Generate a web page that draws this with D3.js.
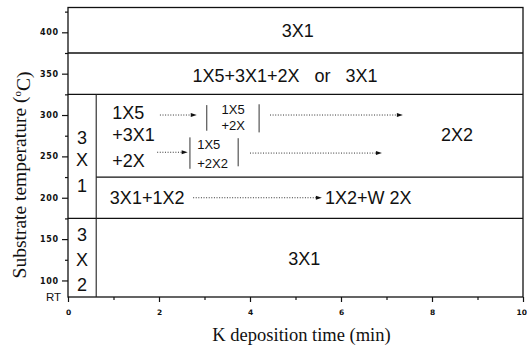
<!DOCTYPE html>
<html><head><meta charset="utf-8">
<script src="https://cdn.jsdelivr.net/npm/d3@7/dist/d3.min.js"></script>
<style>
body{margin:0;background:#fff;}
svg{display:block;}
.big{font-family:"Liberation Sans",Arial,sans-serif;font-size:18px;fill:#111;}
.small{font-family:"Liberation Sans",Arial,sans-serif;font-size:13px;fill:#111;}
.tick text{font-family:"DejaVu Sans",sans-serif;font-weight:bold;fill:#111;}
</style></head>
<body><svg id="c" width="527" height="347"></svg>
<script>
// axis settings / tick labels
const xDomain = [0, 10];
const yDomain = [80, 430];
const xMajorTicks = [0, 2, 4, 6, 8, 10];
const xMinorTicks = [1, 3, 5, 7, 9];
const yMajorTicks = [100, 150, 200, 250, 300, 350, 400];
const yMinorTicks = [125, 175, 225, 275, 325, 375, 425];
const yBottomLabel = "RT";
const xTitle = "K deposition time (min)";
const yTitle = ["Substrate temperature (", "o", "C)"];

// phase boundaries (data units: min, °C)
const boundaryTemps = [375, 325, 225, 175];
const boundaryStarts = [0, 0, 0.62, 0];
const verticalBoundary = {x: 0.62, y0: 80, y1: 325};

// phase labels
const bigLabels = [
  {t: "3X1", x: 5.05, y: 402, a: "middle"},
  {t: "1X5+3X1+2X   or   3X1", x: 4.77, y: 348, a: "middle"},
  {t: "3", x: 0.31, y: 273, a: "middle"},
  {t: "X", x: 0.31, y: 246, a: "middle"},
  {t: "1", x: 0.31, y: 215, a: "middle"},
  {t: "3", x: 0.31, y: 155, a: "middle"},
  {t: "X", x: 0.31, y: 125, a: "middle"},
  {t: "2", x: 0.31, y: 94.5, a: "middle"},
  {t: "1X5", x: 0.97, y: 302.5, a: "start"},
  {t: "+3X1", x: 0.97, y: 276, a: "start"},
  {t: "+2X", x: 0.97, y: 245.6, a: "start"},
  {t: "2X2", x: 8.55, y: 277, a: "middle"},
  {t: "3X1+1X2", x: 0.92, y: 200, a: "start"},
  {t: "1X2+W 2X", x: 5.65, y: 200, a: "start"},
  {t: "3X1", x: 5.19, y: 127, a: "middle"}
];
const smallLabels = [
  {t: "1X5", x: 3.63, y: 307, a: "middle"},
  {t: "+2X", x: 3.63, y: 287, a: "middle"},
  {t: "1X5", x: 2.84, y: 264, a: "start"},
  {t: "+2X2", x: 2.84, y: 242, a: "start"}
];
// dotted arrows
const arrowX0 = [2.02, 1.96, 4.44, 4.00, 2.75];
const arrowX1 = [2.83, 2.63, 7.36, 6.90, 5.58];
const arrowY  = [300, 255, 300, 254, 200];
// bracket bars
const bracketX  = [3.05, 4.20, 2.68, 3.74];
const bracketY0 = [281, 279, 235, 238];
const bracketY1 = [312, 313, 273, 272];

const svg = d3.select("#c");
const x = d3.scaleLinear(xDomain, [68, 523]);
const y = d3.scaleLinear(yDomain, [297, 7.5]);

// axes
const gx = svg.append("g").attr("transform", `translate(0,${y(yDomain[0])})`)
  .call(d3.axisBottom(x).tickValues(xMajorTicks).tickSize(5).tickSizeOuter(0).tickPadding(8).tickFormat(d3.format("d")));
gx.select(".domain").remove();
gx.selectAll("text").style("font-size", "7.5px");
gx.selectAll(".tick").filter(d => d === xDomain[1]).select("text")
  .attr("text-anchor", "end").attr("x", 3.5);
const gx2 = svg.append("g").attr("transform", `translate(0,${y(yDomain[0])})`)
  .call(d3.axisBottom(x).tickValues(xMinorTicks).tickSize(3).tickSizeOuter(0).tickFormat(""));
gx2.select(".domain").remove();

const gy = svg.append("g").attr("transform", `translate(${x(0)},0)`)
  .call(d3.axisLeft(y).tickValues(yMajorTicks).tickSize(6).tickSizeOuter(0).tickPadding(3));
gy.select(".domain").remove();
gy.selectAll("text").style("font-size", "8px").style("letter-spacing", "0.8px");
const gy2 = svg.append("g").attr("transform", `translate(${x(0)},0)`)
  .call(d3.axisLeft(y).tickValues(yMinorTicks).tickSize(3).tickSizeOuter(0).tickFormat(""));
gy2.select(".domain").remove();
svg.selectAll(".tick line").attr("stroke", "#111").attr("stroke-width", 1.2);

svg.append("text").attr("x", x(0) - 7).attr("y", y(yDomain[0]) + 1).attr("text-anchor", "end")
  .attr("dominant-baseline", "middle")
  .style("font-family", "Liberation Sans, Arial, sans-serif").style("font-size", "11.5px").style("fill", "#111")
  .text(yBottomLabel);

// frame
svg.append("rect").attr("x", x(0)).attr("y", y(yDomain[1]))
  .attr("width", x(xDomain[1]) - x(0)).attr("height", y(yDomain[0]) - y(yDomain[1]))
  .attr("fill", "none").attr("stroke", "#111").attr("stroke-width", 1.3);

// boundaries
svg.selectAll("line.hb").data(boundaryTemps).join("line").attr("class", "hb")
  .attr("x1", (d, i) => x(boundaryStarts[i])).attr("x2", x(xDomain[1]))
  .attr("y1", d => y(d)).attr("y2", d => y(d))
  .attr("stroke", "#111").attr("stroke-width", 1.3);
svg.append("line").attr("x1", x(verticalBoundary.x)).attr("x2", x(verticalBoundary.x))
  .attr("y1", y(verticalBoundary.y0)).attr("y2", y(verticalBoundary.y1))
  .attr("stroke", "#222").attr("stroke-width", 1.1);

// brackets
svg.selectAll("line.br").data(bracketX).join("line").attr("class", "br")
  .attr("x1", d => x(d)).attr("x2", d => x(d))
  .attr("y1", (d, i) => y(bracketY0[i])).attr("y2", (d, i) => y(bracketY1[i]))
  .attr("stroke", "#333").attr("stroke-width", 1);

// arrows
svg.selectAll("line.ar").data(arrowY).join("line").attr("class", "ar")
  .attr("x1", (d, i) => x(arrowX0[i])).attr("x2", (d, i) => x(arrowX1[i]) - 5)
  .attr("y1", d => y(d)).attr("y2", d => y(d))
  .attr("stroke", "#333").attr("stroke-width", 1).attr("stroke-dasharray", "1,1.6");
svg.selectAll("path.ah").data(arrowY).join("path").attr("class", "ah")
  .attr("d", (d, i) => {
    const tx = x(arrowX1[i]), ty = y(d);
    return `M${tx},${ty}L${tx - 6},${ty - 2}L${tx - 6},${ty + 2}Z`;
  }).attr("fill", "#111");

// labels
svg.selectAll("text.big").data(bigLabels).join("text").attr("class", "big")
  .attr("x", d => x(d.x)).attr("y", d => y(d.y)).attr("dy", "0.36em")
  .attr("text-anchor", d => d.a).style("white-space", "pre").text(d => d.t);
svg.selectAll("text.small").data(smallLabels).join("text").attr("class", "small")
  .attr("x", d => x(d.x)).attr("y", d => y(d.y)).attr("dy", "0.36em")
  .attr("text-anchor", d => d.a).text(d => d.t);

// titles
svg.append("text").attr("x", (x(0) + x(10)) / 2 + 6).attr("y", 341).attr("text-anchor", "middle")
  .style("font-family", "Liberation Serif, Times New Roman, serif").style("font-size", "18.5px").style("fill", "#111")
  .text(xTitle);
const yt = svg.append("text").attr("transform", "translate(26,175) rotate(-90)").attr("text-anchor", "middle")
  .style("font-family", "Liberation Serif, Times New Roman, serif").style("font-size", "19.5px").style("fill", "#111");
yt.append("tspan").text(yTitle[0]);
yt.append("tspan").attr("dy", "-0.45em").style("font-size", "11px").text(yTitle[1]);
yt.append("tspan").attr("dy", "0.45em").text(yTitle[2]);
</script></body></html>
